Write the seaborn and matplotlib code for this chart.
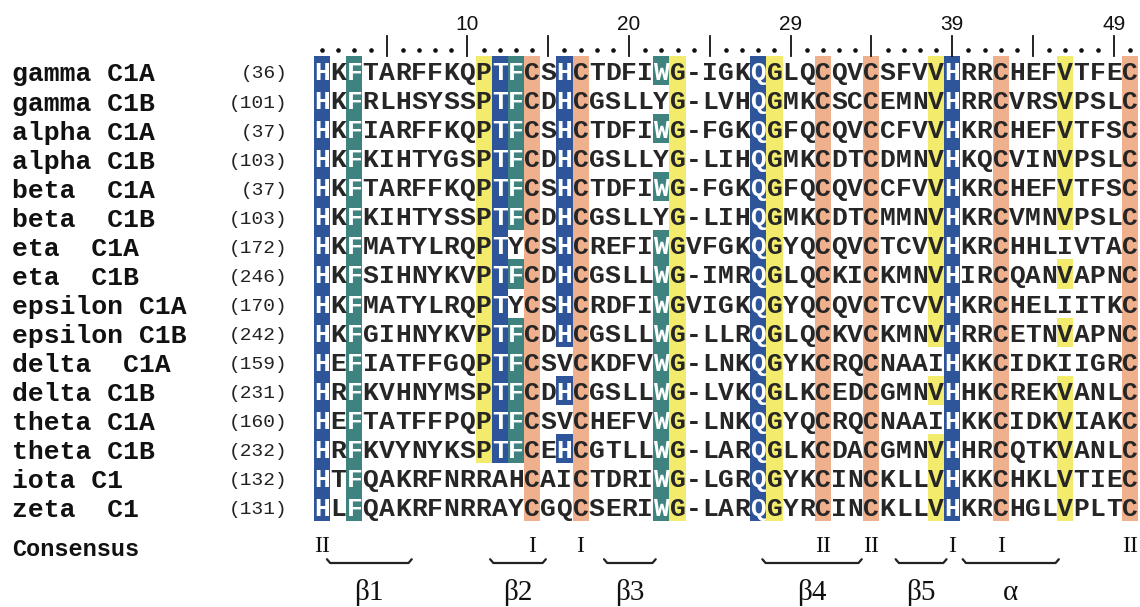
import numpy as np
import pandas as pd
import matplotlib
matplotlib.use("Agg")
import matplotlib.pyplot as plt
from matplotlib.colors import ListedColormap
import seaborn as sns

# ---------------- data ----------------
names = ["gamma C1A", "gamma C1B", "alpha C1A", "alpha C1B", "beta  C1A", "beta  C1B",
         "eta  C1A", "eta  C1B", "epsilon C1A", "epsilon C1B", "delta  C1A", "delta C1B",
         "theta C1A", "theta C1B", "iota C1", "zeta  C1"]
starts = [36, 101, 37, 103, 37, 103, 172, 246, 170, 242, 159, 231, 160, 232, 132, 131]
sequences = [
    "HKFTARFFKQPTFCSHCTDFIWG-IGKQGLQCQVCSFVVHRRCHEFVTFEC",
    "HKFRLHSYSSPTFCDHCGSLLYG-LVHQGMKCSCCEMNVHRRCVRSVPSLC",
    "HKFIARFFKQPTFCSHCTDFIWG-FGKQGFQCQVCCFVVHKRCHEFVTFSC",
    "HKFKIHTYGSPTFCDHCGSLLYG-LIHQGMKCDTCDMNVHKQCVINVPSLC",
    "HKFTARFFKQPTFCSHCTDFIWG-FGKQGFQCQVCCFVVHKRCHEFVTFSC",
    "HKFKIHTYSSPTFCDHCGSLLYG-LIHQGMKCDTCMMNVHKRCVMNVPSLC",
    "HKFMATYLRQPTYCSHCREFIWGVFGKQGYQCQVCTCVVHKRCHHLIVTAC",
    "HKFSIHNYKVPTFCDHCGSLLWG-IMRQGLQCKICKMNVHIRCQANVAPNC",
    "HKFMATYLRQPTYCSHCRDFIWGVIGKQGYQCQVCTCVVHKRCHELIITKC",
    "HKFGIHNYKVPTFCDHCGSLLWG-LLRQGLQCKVCKMNVHRRCETNVAPNC",
    "HEFIATFFGQPTFCSVCKDFVWG-LNKQGYKCRQCNAAIHKKCIDKIIGRC",
    "HRFKVHNYMSPTFCDHCGSLLWG-LVKQGLKCEDCGMNVHHKCREKVANLC",
    "HEFTATFFPQPTFCSVCHEFVWG-LNKQGYQCRQCNAAIHKKCIDKVIAKC",
    "HRFKVYNYKSPTFCEHCGTLLWG-LARQGLKCDACGMNVHHRCQTKVANLC",
    "HTFQAKRFNRRAHCAICTDRIWG-LGRQGYKCINCKLLVHKKCHKLVTIEC",
    "HLFQAKRFNRRAYCGQCSERIWG-LARQGYRCINCKLLVHKRCHGLVPLTC",
]
# conserved columns: residue highlighted where it matches, and its colour class
conserved_cols = [0, 2, 10, 11, 12, 13, 15, 16, 21, 22, 27, 28, 31, 34, 38, 39, 42, 46, 50]
conserved_res = ["H", "F", "P", "T", "F", "C", "H", "C", "W", "G", "Q", "G", "C", "C", "V", "H", "C", "V", "C"]
conserved_cls = ["blue", "teal", "yellow", "blue", "teal", "salmon", "blue", "salmon", "teal", "yellow",
                 "blue", "yellow", "salmon", "salmon", "yellow", "blue", "salmon", "yellow", "salmon"]

ruler_cols = [9, 19, 29, 39, 49]
ruler_labels = ["10", "20", "29", "39", "49"]

consensus_cols = [0, 13, 16, 31, 34, 39, 42, 50]
consensus_marks = ["II", "I", "I", "II", "II", "I", "I", "II"]

ss_names = ["β1", "β2", "β3", "β4", "β5", "α"]
ss_start = [0.8, 10.9, 17.95, 27.75, 36.0, 40.15]
ss_end = [6.05, 14.35, 21.15, 33.9, 39.15, 46.1]

# ---------------- styling ----------------
class_colors = {"none": "#ffffff", "blue": "#2e5599", "teal": "#3e837f",
                "yellow": "#f3eb6b", "salmon": "#efb08e"}
class_order = ["none", "blue", "teal", "yellow", "salmon"]

W, H = 1140, 607
fig = plt.figure(figsize=(W / 100, H / 100), dpi=100)
GX0, GX1, GY0, GY1 = 314, 1138, 56, 521
ax = fig.add_axes([GX0 / W, 1 - GY1 / H, (GX1 - GX0) / W, (GY1 - GY0) / H])

ncol = len(sequences[0])
nrow = len(sequences)
letters = np.array([list(s) for s in sequences])
codes = np.zeros((nrow, ncol))
for c, r, k in zip(conserved_cols, conserved_res, conserved_cls):
    for i in range(nrow):
        if letters[i, c] == r:
            codes[i, c] = class_order.index(k)

cmap = ListedColormap([class_colors[k] for k in class_order])
sns.heatmap(pd.DataFrame(codes), ax=ax, cmap=cmap, vmin=-0.5, vmax=4.5, cbar=False,
            annot=letters, fmt="", xticklabels=False, yticklabels=False, linewidths=0,
            annot_kws=dict(fontfamily="Liberation Mono", fontweight="bold", fontsize=19,
                           va="center_baseline"))
ax.set_xlim(0, ncol)
ax.set_ylim(nrow, 0)
ax.axis("off")

cw = (GX1 - GX0) / ncol
rh = (GY1 - GY0) / nrow

def dx(px):
    return (px - GX0) / cw

def dy(py):
    return (py - GY0) / rh

# left labels
for i, (nm, st) in enumerate(zip(names, starts)):
    ax.text(dx(12), i + 0.55, nm, ha="left", va="center_baseline", fontfamily="Liberation Mono",
            fontweight="bold", fontsize=19, color="#111111")
    ax.text(dx(288), i + 0.55, f"({st})", ha="right", va="center_baseline",
            fontfamily="Liberation Mono", fontsize=14, color="#222222")

# ruler
for c in range(ncol):
    if c in range(4, ncol, 5):
        ax.plot([c + 0.5, c + 0.5], [dy(36), dy(56)], color="#111111", lw=1.3, clip_on=False)
    else:
        ax.plot([c + 0.5], [dy(50)], marker="o", ms=2.3, color="#111111", clip_on=False, lw=0)
for c, lab in zip(ruler_cols, ruler_labels):
    ax.text(c + 0.5, dy(25), lab, ha="center", va="center", fontfamily="Liberation Sans",
            fontsize=15, color="#111111")

# consensus
ax.text(dx(12), dy(547), "Consensus", ha="left", va="center_baseline", fontfamily="Liberation Mono",
        fontweight="bold", fontsize=17, color="#111111")
for c, m in zip(consensus_cols, consensus_marks):
    ax.text(c + 0.5, dy(547), m, ha="center", va="center", fontfamily=["Liberation Serif", "DejaVu Serif"],
            fontsize=17, color="#111111")

# secondary structure brackets
yb = dy(563)
for nm, s, e in zip(ss_names, ss_start, ss_end):
    ax.plot([s, s + 0.2, e - 0.2, e], [yb - 0.13, yb, yb, yb - 0.13], color="#222222", lw=1.6,
            clip_on=False, solid_capstyle="round", solid_joinstyle="round")
    ax.text((s + e) / 2, dy(593), nm, ha="center", va="center",
            fontfamily=["Liberation Serif", "DejaVu Serif"], fontsize=21, color="#111111")

fig.savefig("out.png", dpi=100)
